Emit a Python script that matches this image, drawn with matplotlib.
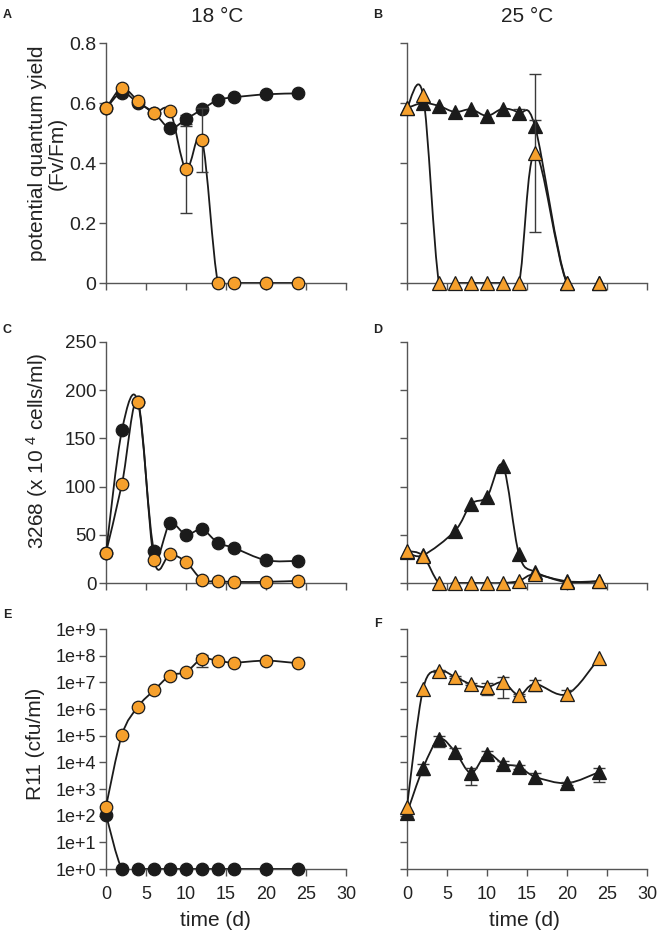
import numpy as np
import matplotlib
matplotlib.use("Agg")
import matplotlib.pyplot as plt
from matplotlib.path import Path
from matplotlib.patches import PathPatch
from matplotlib.ticker import FixedLocator, FuncFormatter

plt.rcParams["font.family"] = ["Liberation Sans", "DejaVu Sans"]
plt.rcParams["mathtext.fontset"] = "custom"
plt.rcParams["mathtext.rm"] = "Liberation Sans"
plt.rcParams["mathtext.default"] = "regular"

# ---- data (time in days) ----
days = [0, 2, 4, 6, 8, 10, 12, 14, 16, 20, 24]

# A: Fv/Fm at 18 C
A_black = [0.582, 0.635, 0.600, 0.568, 0.516, 0.546, 0.579, 0.610, 0.619, 0.629, 0.632]
A_black_err = [0, 0, 0, 0, 0, 0.015, 0, 0, 0, 0, 0]
A_orange = [0.582, 0.649, 0.607, 0.568, 0.573, 0.379, 0.477, 0, 0, 0, 0]
A_orange_err = [0, 0, 0, 0, 0, 0.145, 0.107, 0, 0, 0, 0]

# B: Fv/Fm at 25 C
B_black = [0.583, 0.600, 0.590, 0.570, 0.579, 0.557, 0.581, 0.567, 0.522, 0, 0]
B_black_err = [0, 0, 0, 0, 0, 0, 0, 0.012, 0.02, 0, 0]
B_orange = [0.583, 0.627, 0, 0, 0, 0, 0, 0, 0.433, 0, 0]
B_orange_err = [0, 0, 0, 0, 0, 0, 0, 0, 0.263, 0, 0]

# C / D: strain 3268 (x 10^4 cells/ml)
C_black = [31.6, 158.8, 187.6, 33.3, 61.8, 50.3, 55.5, 41.6, 36.4, 23.6, 22.9]
C_orange = [31.6, 103.0, 187.6, 23.9, 29.8, 21.8, 3.5, 1.8, 1.2, 1.2, 2.2]
D_black = [32.2, 28.8, np.nan, 54.1, 81.8, 89.4, 121.4, 29.8, 11.4, 1.8, 1.8]
D_orange = [33.3, 28.1, 0, 0, 0, 0, 0, 2.1, 9.0, 0.7, 1.8]

# E / F: R11 (cfu/ml), error given as lower / upper bound
E_black = [108, 1, 1, 1, 1, 1, 1, 1, 1, 1, 1]
E_black_lo = [90, 1, 1, 1, 1, 1, 1, 1, 1, 1, 1]
E_black_hi = [130, 1, 1, 1, 1, 1, 1, 1, 1, 1, 1]
E_orange = [220, 1.07e5, 1.23e6, 5.0e6, 1.78e7, 2.45e7, 7.6e7, 6.4e7, 5.5e7, 6.5e7, 5.2e7]
E_orange_lo = [220, 1.07e5, 1.23e6, 5.0e6, 1.78e7, 2.45e7, 3.9e7, 6.4e7, 5.5e7, 6.5e7, 5.2e7]
E_orange_hi = [220, 1.07e5, 1.23e6, 5.0e6, 1.78e7, 2.45e7, 1.07e8, 6.4e7, 5.5e7, 6.5e7, 5.2e7]

F_black = [125, 6.0e3, 7.4e4, 2.5e4, 4.0e3, 2.1e4, 8.8e3, 6.9e3, 2.9e3, 1.66e3, 4.3e3]
F_black_lo = [100, 3.4e3, 3.9e4, 1.74e4, 1.45e3, 1.6e4, 7.0e3, 5.8e3, 1.9e3, 1.4e3, 1.9e3]
F_black_hi = [150, 8.5e3, 9.8e4, 3.4e4, 6.0e3, 2.6e4, 1.1e4, 8.0e3, 4.0e3, 1.9e3, 6.3e3]
F_orange = [220, 5.5e6, 2.7e7, 1.6e7, 8.5e6, 6.6e6, 1.0e7, 3.3e6, 8.7e6, 3.6e6, 8.0e7]
F_orange_lo = [220, 5.5e6, 2.4e7, 1.48e7, 7.8e6, 3.4e6, 2.5e6, 3.0e6, 4.9e6, 2.2e6, 8.0e7]
F_orange_hi = [220, 5.5e6, 3.0e7, 1.78e7, 9.3e6, 9.3e6, 1.6e7, 3.7e6, 1.23e7, 5.0e6, 8.0e7]

ORANGE = "#f6a02c"
DARK = "#1b1b1b"
GREY = "#555555"
TEXT = "#222222"


def smooth_path(x, y, log=False):
    """Catmull-Rom style smooth line through the points (like the original plotting tool)."""
    x = np.asarray(x, float)
    y = np.asarray(y, float)
    keep = ~np.isnan(y)
    x, y = x[keep], y[keep]
    if log:
        y = np.log10(y)
    px = np.r_[x[0], x, x[-1]]
    py = np.r_[y[0], y, y[-1]]
    verts = [(x[0], y[0])]
    codes = [Path.MOVETO]
    for i in range(len(x) - 1):
        c1 = (px[i + 1] + (px[i + 2] - px[i]) / 6, py[i + 1] + (py[i + 2] - py[i]) / 6)
        c2 = (px[i + 2] - (px[i + 3] - px[i + 1]) / 6, py[i + 2] - (py[i + 3] - py[i + 1]) / 6)
        verts += [c1, c2, (x[i + 1], y[i + 1])]
        codes += [Path.CURVE4] * 3
    verts = np.array(verts)
    if log:
        verts[:, 1] = 10 ** verts[:, 1]
    return Path(verts, codes)


def draw_series(ax, y, color, marker, log=False, lo=None, hi=None, z=3):
    x = np.asarray(days, float)
    y = np.asarray(y, float)
    ax.add_patch(PathPatch(smooth_path(x, y, log), facecolor="none",
                           edgecolor=DARK, lw=1.3, zorder=z))
    if lo is not None:
        lo = np.asarray(lo, float)
        hi = np.asarray(hi, float)
        m = (hi - lo) > 0
        if m.any():
            ax.errorbar(x[m], y[m], yerr=[y[m] - lo[m], hi[m] - y[m]], fmt="none",
                        ecolor="#3a3a3a", elinewidth=1.0, capsize=4.5, capthick=1.0,
                        zorder=z)
    keep = ~np.isnan(y)
    ms = 9 if marker == "o" else 9.5
    ax.plot(x[keep], y[keep], linestyle="none", marker=marker, ms=ms,
            mfc=color, mec=DARK, mew=0.9, clip_on=False, zorder=z + 0.5)


def sym(y, e):
    y = np.asarray(y, float)
    e = np.asarray(e, float)
    return y - e, y + e


def style(ax, show_xlabels, show_ylabels, ysize=13.5):
    ax.set_xlim(0, 30)
    for s in ("top", "right"):
        ax.spines[s].set_visible(False)
    for s in ("left", "bottom"):
        ax.spines[s].set_color(GREY)
        ax.spines[s].set_linewidth(1.0)
    ax.set_xticks(range(0, 31, 5))
    ax.tick_params(axis="both", direction="out", length=5, width=1.0, color=GREY,
                   labelsize=13, labelcolor=TEXT)
    ax.tick_params(axis="y", pad=2, labelsize=ysize)
    ax.tick_params(axis="x", pad=7)
    if not show_xlabels:
        ax.tick_params(axis="x", labelbottom=False)
    if not show_ylabels:
        ax.tick_params(axis="y", labelleft=False)


fig = plt.figure(figsize=(6.66, 9.36), dpi=100)
W, H = 666, 936
col_x = [106, 407]
row_y = [(43, 283), (342, 583), (629, 869)]
axes = {}
for r, (top, bot) in enumerate(row_y):
    for c, x0 in enumerate(col_x):
        axes[(r, c)] = fig.add_axes([x0 / W, 1 - bot / H, 240 / W, (bot - top) / H])

# row 1
frac_ticks = [0, 0.2, 0.4, 0.6, 0.8]
frac_labels = ["0", "0.2", "0.4", "0.6", "0.8"]
for c, (bk, bke, org, orge) in enumerate([(A_black, A_black_err, A_orange, A_orange_err),
                                          (B_black, B_black_err, B_orange, B_orange_err)]):
    ax = axes[(0, c)]
    mk = "o" if c == 0 else "^"
    lo, hi = sym(bk, bke)
    draw_series(ax, bk, DARK, mk, lo=lo, hi=hi, z=3)
    lo, hi = sym(org, orge)
    draw_series(ax, org, ORANGE, mk, lo=lo, hi=hi, z=4)
    ax.set_ylim(0, 0.8)
    ax.set_yticks(frac_ticks)
    ax.set_yticklabels(frac_labels)
    style(ax, False, c == 0, ysize=14)

# row 2
cell_ticks = [0, 50, 100, 150, 200, 250]
for c, (bk, org) in enumerate([(C_black, C_orange), (D_black, D_orange)]):
    ax = axes[(1, c)]
    mk = "o" if c == 0 else "^"
    draw_series(ax, bk, DARK, mk, z=3)
    draw_series(ax, org, ORANGE, mk, z=4)
    ax.set_ylim(0, 250)
    ax.set_yticks(cell_ticks)
    style(ax, False, c == 0, ysize=13.5)

# row 3
decades = [10.0 ** k for k in range(0, 10)]
for c, (bk, bklo, bkhi, org, orlo, orhi) in enumerate(
        [(E_black, E_black_lo, E_black_hi, E_orange, E_orange_lo, E_orange_hi),
         (F_black, F_black_lo, F_black_hi, F_orange, F_orange_lo, F_orange_hi)]):
    ax = axes[(2, c)]
    ax.set_yscale("log")
    mk = "o" if c == 0 else "^"
    draw_series(ax, bk, DARK, mk, log=True, lo=bklo, hi=bkhi, z=3)
    draw_series(ax, org, ORANGE, mk, log=True, lo=orlo, hi=orhi, z=4)
    ax.set_ylim(1, 1e9)
    ax.yaxis.set_major_locator(FixedLocator(decades))
    ax.yaxis.set_minor_locator(FixedLocator([]))
    ax.yaxis.set_major_formatter(FuncFormatter(lambda v, p: "1e+%d" % round(np.log10(v))))
    style(ax, True, c == 0, ysize=13)
    ax.set_xlabel("time (d)", fontsize=15, color=TEXT)

axes[(2, 0)].xaxis.set_label_coords(0.455, -0.175)
axes[(2, 1)].xaxis.set_label_coords(0.49, -0.175)

# y labels
ax = axes[(0, 0)]
ax.set_ylabel("potential quantum yield\n(Fv/Fm)", fontsize=15, color=TEXT, linespacing=1.05)
ax.yaxis.set_label_coords(-0.165, 0.54)
ax = axes[(1, 0)]
ax.set_ylabel("3268 (x 10 $^{4}$ cells/ml)", fontsize=15, color=TEXT)
ax.yaxis.set_label_coords(-0.235, 0.55)
ax = axes[(2, 0)]
ax.set_ylabel("R11 (cfu/ml)", fontsize=15, color=TEXT)
ax.yaxis.set_label_coords(-0.255, 0.52)

# column titles
fig.text(217 / W, 1 - 17 / H, "18 °C", fontsize=15, color=TEXT, ha="center", va="center")
fig.text(527 / W, 1 - 17 / H, "25 °C", fontsize=15, color=TEXT, ha="center", va="center")

# panel letters
for letter, (px, py) in zip("ABCDEF", [(7, 15), (378, 15), (7, 330), (378, 330), (7, 615), (378, 624)]):
    fig.text(px / W, 1 - py / H, letter, fontsize=9, fontweight="bold", color=TEXT,
             ha="center", va="center")

fig.savefig("out.png", dpi=100)
